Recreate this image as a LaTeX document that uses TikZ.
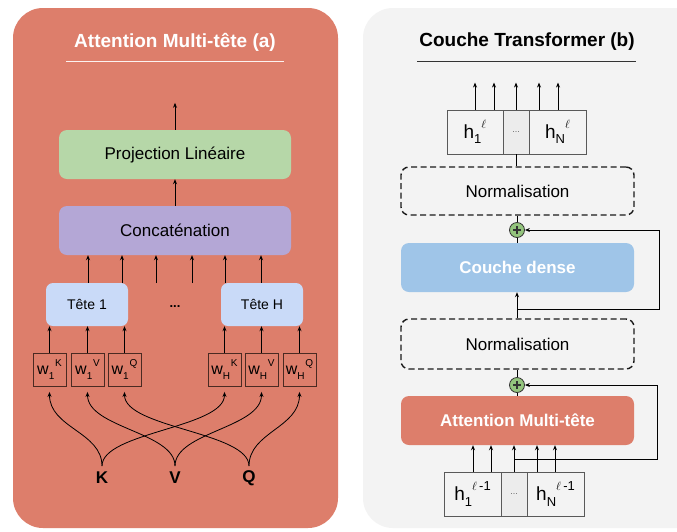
\documentclass[tikz,border=0pt]{standalone}
\usepackage{fontspec}
\setmainfont{Liberation Sans}
\usetikzlibrary{arrows.meta}
\definecolor{panelred}{HTML}{DD7E6B}
\definecolor{panelgray}{HTML}{F3F3F3}
\definecolor{projgreen}{HTML}{B6D7A8}
\definecolor{concatpurple}{HTML}{B4A7D6}
\definecolor{teteblue}{HTML}{C9DAF8}
\definecolor{denseblue}{HTML}{9FC5E8}
\definecolor{plusgreen}{HTML}{93C47D}
\definecolor{wborder}{HTML}{4A2A22}
\definecolor{cellborder}{HTML}{595959}
\definecolor{cellmid}{HTML}{ECECEC}
\newcommand{\wv}[2]{w\raisebox{-0.3em}{\fontsize{10}{10}\selectfont #1}\hspace{0.8pt}\raisebox{0.5em}{\fontsize{10}{10}\selectfont #2}}
\newcommand{\hv}[2]{h\raisebox{-0.3em}{\fontsize{13}{13}\selectfont #1}\raisebox{0.5em}{\fontsize{13}{13}\selectfont #2}}
\begin{document}
\begin{tikzpicture}[x=1pt,y=-1pt,
  arr/.style={-{Stealth[length=5pt,width=4pt]}, line width=0.8pt, black},
  ln/.style={line width=0.8pt, black},
  titlefont/.style={font=\bfseries\fontsize{19}{22}\selectfont},
  bigbox/.style={rounded corners=8pt, minimum width=232pt, minimum height=49pt, inner sep=0pt, font=\fontsize{17}{20}\selectfont},
  tete/.style={rounded corners=7pt, fill=teteblue, minimum width=82pt, minimum height=43pt, inner sep=0pt, font=\fontsize{14}{17}\selectfont},
  wbox/.style={draw=wborder, line width=0.9pt, minimum size=33pt, inner sep=0pt, font=\fontsize{16}{18}\selectfont},
  kvq/.style={font=\bfseries\fontsize{17}{20}\selectfont, inner sep=0pt},
  normbox/.style={draw=black!90, line width=1.4pt, dash pattern=on 6pt off 3.5pt, rounded corners=8pt, minimum width=233pt, minimum height=48pt, inner sep=0pt, font=\fontsize{17}{20}\selectfont},
  hcell/.style={draw=cellborder, line width=0.9pt, fill=panelgray, minimum height=44pt, inner sep=0pt, font=\fontsize{19}{22}\selectfont},
  plus/.style={circle, draw=black!80, line width=0.8pt, fill=plusgreen, minimum size=15pt, inner sep=0pt,
    path picture={\draw[line width=1.2pt] ([xshift=-4pt]path picture bounding box.center) -- ([xshift=4pt]path picture bounding box.center);
                  \draw[line width=1.2pt] ([yshift=-4pt]path picture bounding box.center) -- ([yshift=4pt]path picture bounding box.center);}}
]
\useasboundingbox (0,0) rectangle (677,531);
\fill[white] (0,0) rectangle (677,531);
\begin{scope}
  \clip (0,0) rectangle (677,531);
  \fill[panelred, rounded corners=30pt] (13,8) rectangle (338,528);
  \fill[panelgray, rounded corners=30pt] (363,8) rectangle (712,528);
\end{scope}

% ---------- Left panel ----------
\node[titlefont, text=white] (ta) at (175,42) {Attention Multi-tête (a)};
\draw[white!90!panelred, line width=1pt] (66,61) -- (284,61);

\node[bigbox, fill=projgreen] (proj) at (175,154.5) {Projection Linéaire};
\node[bigbox, fill=concatpurple] (concat) at (175,230.5) {Concaténation};
\node[tete] (t1) at (87,304.5) {Tête 1};
\node[tete] (tH) at (262,304.5) {Tête H};
\node[font=\bfseries\fontsize{13}{15}\selectfont, inner sep=0pt] (dots) at (175,307) {...};

\node[wbox] (w1K) at (49.5,369.5) {\wv{1}{K}};
\node[wbox] (w1V) at (87.5,369.5) {\wv{1}{V}};
\node[wbox] (w1Q) at (124.5,369.5) {\wv{1}{Q}};
\node[wbox] (wHK) at (224.5,369.5) {\wv{H}{K}};
\node[wbox] (wHV) at (261.5,369.5) {\wv{H}{V}};
\node[wbox] (wHQ) at (299.5,369.5) {\wv{H}{Q}};

\node[kvq] (K) at (102,478) {K};
\node[kvq] (V) at (175,478) {V};
\node[kvq] (Q) at (249,478) {Q};

\draw[arr] (proj.north) -- ++(0,-27);
\draw[arr] (concat.north) -- (proj.south);
\draw[arr] ([xshift=1pt]t1.north) -- ([xshift=1pt]t1.north |- concat.south);
\draw[arr] ([xshift=35pt]t1.north) -- ([xshift=35pt]t1.north |- concat.south);
\draw[arr] ([xshift=-37pt]tH.north) -- ([xshift=-37pt]tH.north |- concat.south);
\draw[arr] ([xshift=-1pt]tH.north) -- ([xshift=-1pt]tH.north |- concat.south);
\coordinate (m1) at (156,283);
\coordinate (m2) at (192,283);
\draw[arr] (m1) -- (m1 |- concat.south);
\draw[arr] (m2) -- (m2 |- concat.south);

\foreach \w/\t in {w1K/t1, w1V/t1, w1Q/t1, wHK/tH, wHV/tH, wHQ/tH}
  \draw[arr] (\w.north) -- (\w.north |- \t.south);

\foreach \s/\d in {K/w1K, K/wHK, V/w1V, V/wHV, Q/w1Q, Q/wHQ}
  \draw[arr] ([yshift=12pt]\s.center) .. controls +(0,-34) and +(0,36) .. ([yshift=-5.5pt]\d.south);

% ---------- Right panel ----------
\node[titlefont, text=black] (tb) at (527,42) {Couche Transformer (b)};
\draw[black!80, line width=1pt] (417,61) -- (636,61);

\node[hcell, minimum width=56pt] (ht1) at (475,132) {\hv{1}{$\ell$}};
\node[hcell, minimum width=26pt, fill=cellmid, font=\fontsize{9}{10}\selectfont, text=black!60] (ht2) at (516,132) {...};
\node[hcell, minimum width=57pt] (ht3) at (557.5,132) {\hv{N}{$\ell$}};

\node[normbox] (n1) at (517.5,191) {Normalisation};
\node[plus] (p1) at (517,230) {};
\node[bigbox, fill=denseblue, minimum width=233pt, text=white, font=\bfseries\fontsize{17}{20}\selectfont] (dense) at (517.5,267.5) {Couche dense};
\node[normbox, minimum height=50pt] (n2) at (517.5,344) {Normalisation};
\node[plus] (p2) at (517,385) {};
\node[bigbox, fill=panelred, minimum width=233pt, text=white, font=\bfseries\fontsize{17}{20}\selectfont] (attn) at (517.5,420.5) {Attention Multi-tête};

\node[hcell, minimum width=57pt] (hb1) at (472.5,494) {\hv{1}{$\ell$\,-1}};
\node[hcell, minimum width=26pt, fill=cellmid, font=\fontsize{9}{10}\selectfont, text=black!60] (hb2) at (514,494) {...};
\node[hcell, minimum width=57pt] (hb3) at (555.5,494) {\hv{N}{$\ell$\,-1}};

% top outputs
\draw[arr] (ht1.north) -- ++(0,-27);
\draw[arr] ([xshift=19pt]ht1.north) -- ++(0,-27);
\draw[arr] (ht2.north) -- ++(0,-27);
\draw[arr] ([xshift=-18.5pt]ht3.north) -- ++(0,-27);
\draw[arr] ([xshift=0.5pt]ht3.north) -- ++(0,-27);

\draw[ln] (ht2.south) -- (ht2.south |- n1.north);
\draw[ln] (n1.south -| p1.north) -- (p1.north);
\draw[ln] (p1.south) -- (p1.south |- dense.north);
\draw[arr] (n2.north -| p1.south) -- (p1.south |- dense.south);
\coordinate (b1) at (517,309);
\draw[arr] (b1) -- (659,309) |- (p1.east);

\draw[ln] (p2.north) -- (p2.north |- n2.south);
\draw[ln] (p2.south) -- (p2.south |- attn.north);

% bottom inputs
\draw[arr] ([xshift=0.5pt]hb1.north) -- ([xshift=0.5pt]hb1.north |- attn.south);
\draw[arr] ([xshift=18.5pt]hb1.north) -- ([xshift=18.5pt]hb1.north |- attn.south);
\draw[arr] (hb2.north) -- (hb2.north |- attn.south);
\draw[arr] ([xshift=-18.5pt]hb3.north) -- ([xshift=-18.5pt]hb3.north |- attn.south);
\draw[arr] ([xshift=-0.5pt]hb3.north) -- ([xshift=-0.5pt]hb3.north |- attn.south);
\coordinate (b2) at (514,459);
\draw[arr] (b2) -- (657,459) |- (p2.east);
\end{tikzpicture}
\end{document}
